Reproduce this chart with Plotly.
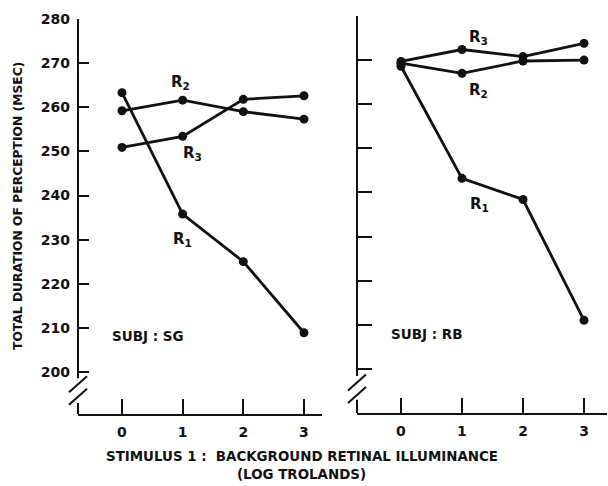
import plotly.graph_objects as go

x_levels = [0, 1, 2, 3]

# Subject SG (left panel)
sg_r1 = [263.3, 235.8, 225.0, 208.9]
sg_r2 = [259.2, 261.6, 259.0, 257.3]
sg_r3 = [250.9, 253.4, 261.8, 262.6]

# Subject RB (right panel)
rb_r1 = [268.6, 243.2, 238.4, 211.0]
rb_r2 = [269.3, 267.0, 269.8, 270.0]
rb_r3 = [269.7, 272.4, 270.8, 273.8]

y_ticks = [200, 210, 220, 230, 240, 250, 260, 270, 280]
x_ticklabels = ["0", "1", "2", "3"]

FONT = "DejaVu Sans"
INK = "#111111"

fig = go.Figure()

def add_series(xa, ya, ys):
    fig.add_trace(go.Scatter(
        x=x_levels, y=ys, xaxis=xa, yaxis=ya, mode="lines+markers",
        line=dict(color=INK, width=2.8),
        marker=dict(color=INK, size=9),
        showlegend=False, hoverinfo="skip"))

for ys in (sg_r1, sg_r2, sg_r3):
    add_series("x", "y", ys)
for ys in (rb_r1, rb_r2, rb_r3):
    add_series("x2", "y2", ys)

W, H = 608, 486
def px_x(p):
    return p / W
def px_y(p):
    return 1 - p / H

tickfont = dict(family=FONT, size=14, color=INK, weight="bold")

xcommon = dict(
    tickmode="array", tickvals=x_levels, ticktext=x_ticklabels,
    ticks="inside", ticklen=15, tickwidth=2, tickcolor=INK,
    showline=True, linecolor=INK, linewidth=2,
    showgrid=False, zeroline=False, tickfont=tickfont,
    ticklabelstandoff=4, fixedrange=True, automargin=False)

ycommon = dict(
    tickmode="array", tickvals=y_ticks,
    ticks="inside", tickwidth=2, tickcolor=INK,
    showline=False, showgrid=False, zeroline=False, tickfont=tickfont,
    fixedrange=True, automargin=False)

fig.update_layout(
    width=W, height=H, autosize=False,
    margin=dict(l=0, r=0, t=0, b=0, pad=0),
    paper_bgcolor="white", plot_bgcolor="white",
    xaxis=dict(domain=[px_x(78), px_x(322)], range=[-0.725, 3.297],
               anchor="y", **xcommon),
    yaxis=dict(domain=[px_y(414), px_y(19)], range=[190.48, 280],
               anchor="x", ticklen=11, showticklabels=True,
               ticklabelstandoff=7, **ycommon),
    xaxis2=dict(domain=[px_x(357), px_x(607)], range=[-0.721, 3.377],
                anchor="y2", **xcommon),
    yaxis2=dict(domain=[px_y(413), px_y(16)], range=[190.0, 280],
                anchor="x2", ticklen=15, showticklabels=False, **ycommon),
)

shapes = []
# y-axis lines with a break near the bottom
for xr, yr, top, gap_hi, gap_lo, bottom, s1, s2 in (
        ("x domain", "y", 280, 198.6, 193.0, 190.48, 197.2, 194.4),
        ("x2 domain", "y2", 280, 198.4, 193.0, 190.0, 196.9, 194.1)):
    shapes.append(dict(type="line", xref=xr, yref=yr, x0=0, x1=0, y0=top, y1=gap_hi,
                       line=dict(color=INK, width=2)))
    shapes.append(dict(type="line", xref=xr, yref=yr, x0=0, x1=0, y0=gap_lo, y1=bottom,
                       line=dict(color=INK, width=2)))
    for c in (s1, s2):
        shapes.append(dict(type="line", xref=xr, yref=yr, xsizemode="pixel", ysizemode="pixel",
                           xanchor=0, yanchor=c, x0=-9, x1=9, y0=-8, y1=8,
                           line=dict(color=INK, width=2)))
fig.update_layout(shapes=shapes)

lab_font = dict(family=FONT, size=15, color=INK, weight="bold")
sub_font = dict(family=FONT, size=13.5, color=INK, weight="bold")

annotations = []
def rlabel(xr, yr, x, y, n):
    annotations.append(dict(xref=xr, yref=yr, x=x, y=y, showarrow=False,
                            xanchor="center", yanchor="middle",
                            text=f"R<sub>{n}</sub>", font=lab_font))

rlabel("x", "y", 0.97, 265.6, 2)
rlabel("x", "y", 1.17, 249.6, 3)
rlabel("x", "y", 1.0, 230.0, 1)
rlabel("x2", "y2", 1.27, 275.2, 3)
rlabel("x2", "y2", 1.27, 263.2, 2)
rlabel("x2", "y2", 1.28, 237.2, 1)

annotations.append(dict(xref="x", yref="y", x=-0.19, y=208.2, xanchor="left",
                        yanchor="middle", showarrow=False, text="SUBJ : SG", font=sub_font))
annotations.append(dict(xref="x2", yref="y2", x=-0.2, y=207.9, xanchor="left",
                        yanchor="middle", showarrow=False, text="SUBJ : RB", font=sub_font))

title_font = dict(family=FONT, size=13.4, color=INK, weight="bold")
annotations.append(dict(xref="paper", yref="paper", x=px_x(302), y=px_y(456),
                        xanchor="center", yanchor="middle", showarrow=False,
                        text="STIMULUS 1 :  BACKGROUND RETINAL ILLUMINANCE",
                        font=title_font))
annotations.append(dict(xref="paper", yref="paper", x=px_x(301), y=px_y(474),
                        xanchor="center", yanchor="middle", showarrow=False,
                        text="(LOG TROLANDS)", font=title_font))
annotations.append(dict(xref="paper", yref="paper", x=px_x(18), y=px_y(206),
                        xanchor="center", yanchor="middle", showarrow=False, textangle=-90,
                        text="TOTAL DURATION OF PERCEPTION (MSEC)",
                        font=dict(family=FONT, size=12.3, color=INK, weight="bold")))
fig.update_layout(annotations=annotations)

fig.write_html("out.html", config={"displayModeBar": False},
               post_script="document.body.style.margin='0';")
